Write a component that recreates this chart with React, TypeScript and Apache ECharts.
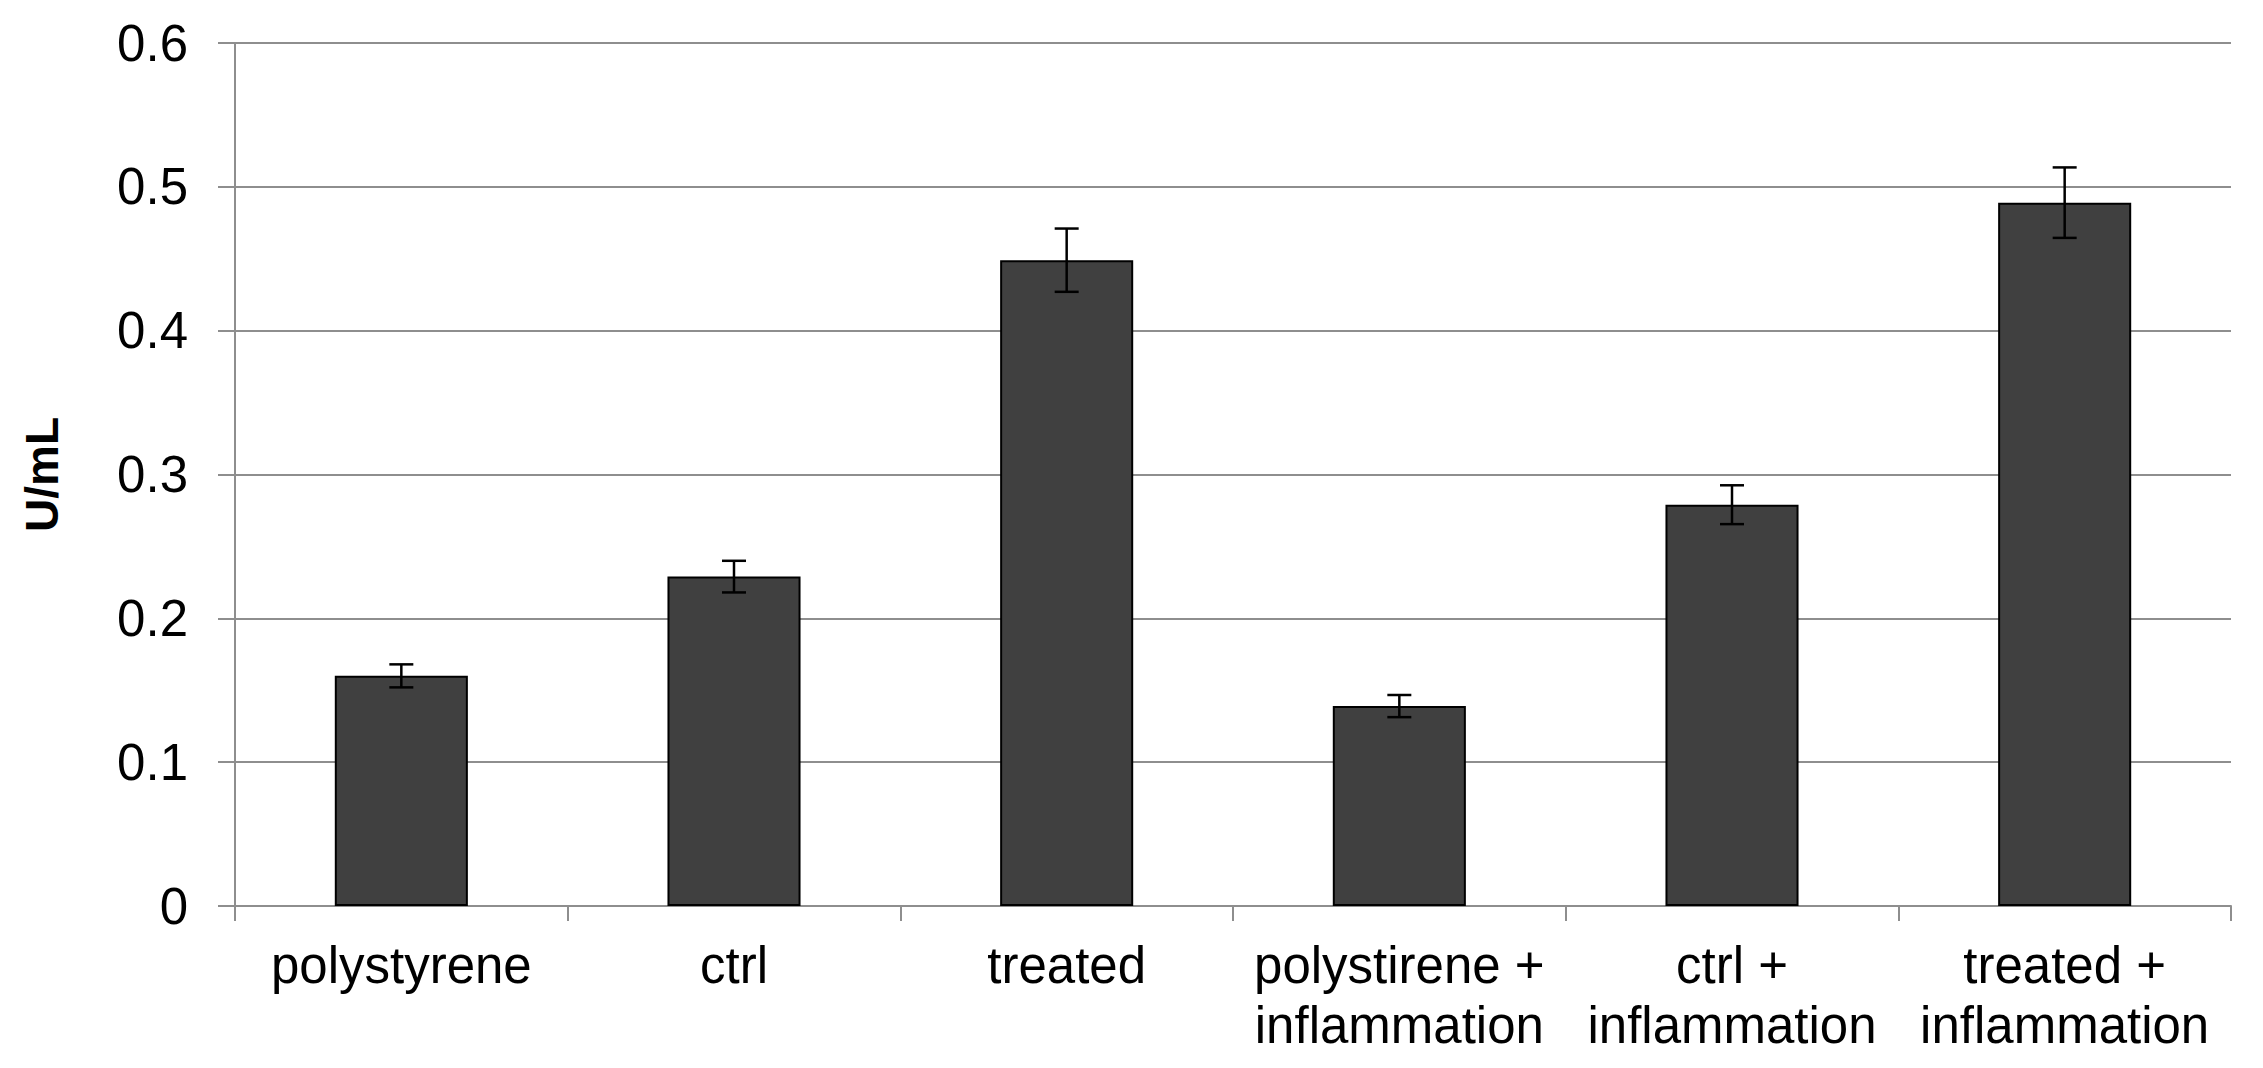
import React, { useEffect, useRef } from "react";
import * as echarts from "echarts";

const categories = [
  "polystyrene",
  "ctrl",
  "treated",
  "polystirene +\ninflammation",
  "ctrl +\ninflammation",
  "treated +\ninflammation",
];
const values = [0.16, 0.229, 0.449, 0.139, 0.279, 0.489];
const errors = [0.008, 0.011, 0.022, 0.0077, 0.0135, 0.0245];
const yTicks = { min: 0, max: 0.6, interval: 0.1 };

const GRAY = "#8e8e8e";
const FONT = "Liberation Sans, Arial, sans-serif";

export default function App() {
  const ref = useRef<HTMLDivElement>(null);
  useEffect(() => {
    if (!ref.current) return;
    const chart = echarts.init(ref.current, null, { renderer: "svg" });
    chart.setOption({
      animation: false,
      backgroundColor: "#ffffff",
      grid: {
        left: 235,
        right: 2263 - 2231,
        top: 43,
        bottom: 1068 - 906,
        containLabel: false,
        outerBoundsMode: "none",
      },
      xAxis: {
        type: "category",
        data: categories,
        axisLine: { show: true, lineStyle: { color: GRAY, width: 2 } },
        axisTick: { show: true, length: 15, lineStyle: { color: GRAY, width: 2 } },
        axisLabel: {
          color: "#000",
          fontFamily: FONT,
          fontSize: 51,
          lineHeight: 60,
          margin: 29,
          interval: 0,
          align: "center",
        },
      },
      yAxis: {
        type: "value",
        min: yTicks.min,
        max: yTicks.max,
        interval: yTicks.interval,
        name: "U/mL",
        nameLocation: "middle",
        nameRotate: 90,
        nameGap: 170,
        nameTextStyle: { color: "#000", fontFamily: FONT, fontSize: 46, fontWeight: "bold" },
        axisLine: { show: true, lineStyle: { color: GRAY, width: 2 } },
        axisTick: { show: true, length: 17, lineStyle: { color: GRAY, width: 2 } },
        splitLine: { show: true, lineStyle: { color: GRAY, width: 2 } },
        axisLabel: {
          color: "#000",
          fontFamily: FONT,
          fontSize: 51,
          margin: 47,
          formatter: (v: number) => (v === 0 ? "0" : v.toFixed(1)),
        },
      },
      series: [
        {
          type: "bar",
          data: values,
          barWidth: "40%",
          itemStyle: { color: "#404040", borderColor: "#000", borderWidth: 2 },
          z: 2,
        },
        {
          type: "custom",
          data: categories.map((_, i) => [i, values[i], errors[i]]),
          encode: { x: 0, y: 1 },
          z: 5,
          renderItem: (params: any, api: any) => {
            const i = api.value(0);
            const v = api.value(1);
            const e = api.value(2);
            const top = api.coord([i, v + e]);
            const bot = api.coord([i, v - e]);
            const half = 12;
            const style = { stroke: "#000", lineWidth: 2.5 };
            return {
              type: "group",
              children: [
                { type: "line", shape: { x1: top[0], y1: top[1], x2: bot[0], y2: bot[1] }, style },
                { type: "line", shape: { x1: top[0] - half, y1: top[1], x2: top[0] + half, y2: top[1] }, style },
                { type: "line", shape: { x1: bot[0] - half, y1: bot[1], x2: bot[0] + half, y2: bot[1] }, style },
              ],
            };
          },
        },
      ],
    });
    return () => chart.dispose();
  }, []);
  return (
    <div
      ref={ref}
      style={{ position: "fixed", left: 0, top: 0, width: 2263, height: 1068, background: "#fff" }}
    />
  );
}
